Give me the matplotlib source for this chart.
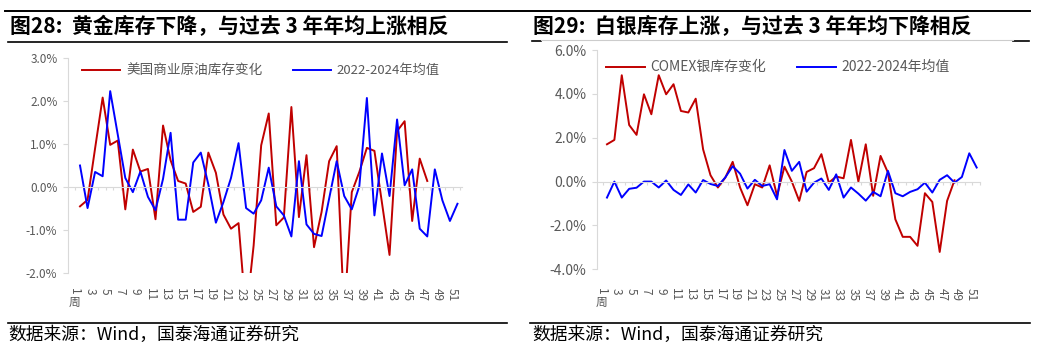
import matplotlib
matplotlib.use('Agg')
import matplotlib.pyplot as plt
from matplotlib.lines import Line2D
from matplotlib.transforms import blended_transform_factory

plt.rcParams['font.family'] = ['Noto Sans CJK SC', 'DejaVu Sans']

# ---------------- data ----------------
week_labels = list(range(1, 52, 2))

gold_us_crude = [-0.45, -0.30, 0.90, 2.08, 0.98, 1.08, -0.52, 0.87, 0.36, 0.42,
                 -0.75, 1.43, 0.62, 0.14, 0.08, -0.58, -0.46, 0.80, 0.33, -0.64,
                 -0.97, -0.84, -3.00, -1.36, 0.97, 1.71, -0.89, -0.71, 1.86, -0.70,
                 0.74, -1.40, -0.58, 0.60, 0.95, -3.00, -0.12, 0.35, 0.91, 0.84,
                 -0.37, -1.58, 1.30, 1.53, -0.79, 0.66, 0.14]
gold_avg = [0.50, -0.49, 0.35, 0.25, 2.23, 1.22, 0.21, -0.12, 0.36, -0.23,
            -0.54, 0.19, 1.26, -0.76, -0.76, 0.57, 0.80, 0.06, -0.83, -0.35,
            0.21, 1.02, -0.49, -0.62, -0.31, 0.45, -0.45, -0.66, -1.15, 0.60,
            -0.87, -1.09, -1.14, -0.27, 0.60, -0.21, -0.52, 0.02, 2.07, -0.66,
            0.78, -0.21, 1.57, 0.04, 0.41, -0.97, -1.15, 0.41, -0.31, -0.79, -0.39]

silver_comex = [1.70, 1.90, 4.85, 2.58, 2.13, 3.98, 3.07, 4.85, 3.98, 4.44,
                3.22, 3.15, 3.78, 1.47, 0.29, -0.27, 0.18, 0.90, -0.27, -1.08,
                -0.12, -0.27, 0.74, -0.65, 0.68, 0.00, -0.88, 0.44, 0.61, 1.25,
                -0.05, 0.23, 0.15, 1.90, 0.00, 1.70, -0.65, 1.17, 0.41, -1.72,
                -2.52, -2.52, -2.93, -0.53, -0.93, -3.21, -0.88, 0.06]
silver_avg = [-0.73, 0.00, -0.73, -0.33, -0.28, 0.00, 0.00, -0.27, 0.05, -0.38,
              -0.61, -0.13, -0.50, 0.07, -0.11, -0.20, 0.19, 0.70, 0.36, -0.32,
              0.08, -0.20, -0.12, -0.81, 1.44, 0.49, 0.90, -0.46, -0.05, 0.14,
              -0.38, 0.33, -0.73, -0.27, -0.55, -0.87, -0.47, -0.67, 0.49, -0.53,
              -0.67, -0.47, -0.35, -0.05, -0.50, 0.08, 0.29, -0.05, 0.21, 1.29, 0.64]

gold_yticks = [-2, -1, 0, 1, 2, 3]
silver_yticks = [-4, -2, 0, 2, 4, 6]

gold_title = '图28:  黄金库存下降，与过去 3 年年均上涨相反'
silver_title = '图29:  白银库存上涨，与过去 3 年年均下降相反'
gold_legend = ['美国商业原油库存变化', '2022-2024年均值']
silver_legend = ['COMEX银库存变化', '2022-2024年均值']
source = '数据来源：Wind，国泰海通证券研究'

RED = '#C00000'
BLUE = '#0000FF'
GREY_TXT = '#595959'
GREY_AX = '#d9d9d9'

W, H = 1038, 348
fig = plt.figure(figsize=(W / 100, H / 100), dpi=100)


def fx(px):
    return px / W


def fy(py):
    return 1 - py / H


def hline(x0, x1, y, color='black', lw=1.2):
    fig.add_artist(Line2D([fx(x0), fx(x1)], [fy(y), fy(y)], color=color, lw=lw))


def make_axes(box, xlim, ylim, yticks, ysize, red, blue, lab_top, lab_size):
    x0, y0, x1, y1 = box
    ax = fig.add_axes([fx(x0), fy(y1), (x1 - x0) / W, (y1 - y0) / H])
    ax.plot(range(1, len(red) + 1), red, color=RED, lw=1.4)
    ax.plot(range(1, len(blue) + 1), blue, color=BLUE, lw=1.4)
    ax.set_xlim(*xlim)
    ax.set_ylim(*ylim)
    ax.set_facecolor('none')
    for s in ('top', 'right'):
        ax.spines[s].set_visible(False)
    ax.spines['left'].set_color(GREY_AX)
    ax.spines['bottom'].set_color(GREY_AX)
    ax.spines['bottom'].set_position(('data', 0))
    ax.set_yticks(yticks)
    ax.set_yticklabels([f'{v:.1f}%' for v in yticks])
    ax.tick_params(axis='y', color=GREY_AX, labelcolor=GREY_TXT,
                   labelsize=ysize, length=3.6, pad=4)
    ax.set_xticks([n + 0.4 for n in range(0, 52)])
    ax.tick_params(axis='x', direction='out', length=2.5, color=GREY_AX,
                   labelbottom=False)
    tr = blended_transform_factory(ax.transData, fig.transFigure)
    for w in week_labels:
        ax.text(w - 0.7, fy(lab_top), str(w), rotation=-90, ha='center',
                va='top', fontsize=lab_size, color=GREY_TXT, transform=tr,
                clip_on=False)
    ax.text(1 - 0.7, fy(lab_top + 8), '周', ha='center', va='top',
            fontsize=lab_size, color=GREY_TXT, transform=tr, clip_on=False)
    return ax


# left chart
make_axes((68, 58, 462, 273), (-0.59, 51.6), (-2, 3), gold_yticks, 8.5,
          gold_us_crude, gold_avg, 288, 8.5)
# right chart
make_axes((597, 50, 980, 269.3), (-0.35, 51.45), (-4, 6), silver_yticks, 10,
          silver_comex, silver_avg, 288, 8.5)

# legends
fig.add_artist(Line2D([fx(82), fx(120)], [fy(70), fy(70)], color=RED, lw=1.4))
fig.text(fx(126), fy(70), gold_legend[0], va='center', fontsize=9.8, color=GREY_TXT)
fig.add_artist(Line2D([fx(293), fx(331)], [fy(70), fy(70)], color=BLUE, lw=1.4))
fig.text(fx(336), fy(70), gold_legend[1], va='center', fontsize=9.5, color=GREY_TXT)

fig.add_artist(Line2D([fx(606), fx(645)], [fy(67), fy(67)], color=RED, lw=1.4))
fig.text(fx(650), fy(67), silver_legend[0], va='center', fontsize=10, color=GREY_TXT)
fig.add_artist(Line2D([fx(797), fx(836)], [fy(67), fy(67)], color=BLUE, lw=1.4))
fig.text(fx(841), fy(67), silver_legend[1], va='center', fontsize=10, color=GREY_TXT)

# titles and rules
hline(5, 1030, 11, lw=1.4)
fig.text(fx(10), fy(26), gold_title, fontsize=15, fontweight='bold', va='center')
fig.text(fx(533), fy(26), silver_title, fontsize=15, fontweight='bold', va='center')
hline(8, 507, 41.7)
hline(532, 541, 41)
hline(1013, 1029, 41)
hline(541, 1013, 40, color='#cccccc', lw=0.8)

# source lines
hline(8, 507, 322.7)
hline(530, 1030, 322.7)
fig.text(fx(8), fy(335), source, fontsize=12.8, va='center')
fig.text(fx(532), fy(335), source, fontsize=12.8, va='center')

fig.savefig('out.png', dpi=100)
